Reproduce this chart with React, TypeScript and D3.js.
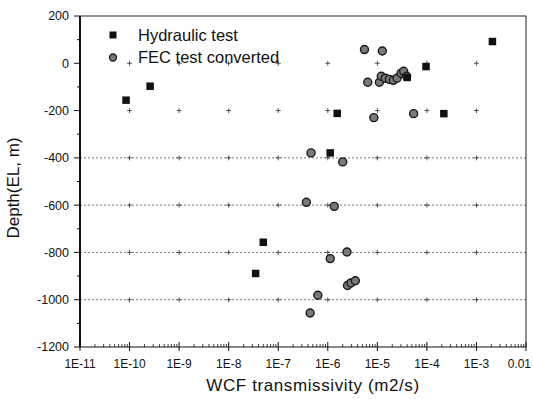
import React from "react";
import * as d3 from "d3";

const hydraulicT = [8.5e-11, 2.6e-10, 1.12e-6, 1.55e-6, 4.0e-5, 9.6e-5, 2.2e-4, 2.1e-3, 5.0e-8, 3.5e-8];
const hydraulicDepth = [-156, -97, -379, -212, -60, -14, -213, 92, -757, -889];

const fecT = [5.5e-6, 1.26e-5, 6.4e-6, 1.1e-5, 1.2e-5, 1.45e-5, 1.75e-5, 2.1e-5, 2.5e-5, 3.0e-5, 3.4e-5, 3.9e-5, 8.5e-6, 5.4e-5, 4.6e-7, 2.0e-6, 3.7e-7, 1.35e-6, 2.44e-6, 1.12e-6, 2.5e-6, 2.94e-6, 3.6e-6, 6.3e-7, 4.4e-7];
const fecDepth = [58, 52, -80, -80, -55, -63, -68, -72, -63, -42, -34, -55, -230, -213, -379, -417, -588, -605, -798, -826, -940, -929, -920, -981, -1056];

const xTickValues = [1e-11, 1e-10, 1e-9, 1e-8, 1e-7, 1e-6, 1e-5, 1e-4, 1e-3, 1e-2];
const xTickLabels = ["1E-11", "1E-10", "1E-9", "1E-8", "1E-7", "1E-6", "1E-5", "1E-4", "1E-3", "0.01"];
const yTickValues = [200, 0, -200, -400, -600, -800, -1000, -1200];
const gridDepths = [-400, -600, -800, -1000];
const crossDepths = [0, -200, -400, -600, -800, -1000];

const legendLabels = ["Hydraulic test", "FEC test converted"];

const W = 533, H = 399;
const L = 80, R = 526, T = 16, B = 347;

export default function App() {
  const x = d3.scaleLog().domain([1e-11, 1e-2]).range([L, R]);
  const y = d3.scaleLinear().domain([-1200, 200]).range([B, T]);
  const font = "'Liberation Sans', Arial, sans-serif";

  const minorX: number[] = [];
  for (let e = -11; e < -2; e++) {
    for (let k = 2; k <= 9; k++) minorX.push(k * Math.pow(10, e));
  }
  const minorY = d3.range(-1100, 200, 200);
  const crossX = xTickValues.slice(1, -1);
  const last = xTickValues.length - 1;

  return (
    <svg width={W} height={H} style={{ position: "absolute", left: 0, top: 0, background: "#fff" }} fontFamily={font}>
      <rect x={0} y={0} width={W} height={H} fill="#fff" />
      {gridDepths.map((d) => (
        <line key={"g" + d} x1={L} x2={R} y1={y(d)} y2={y(d)} stroke="#555" strokeWidth={0.8} strokeDasharray="2,2" />
      ))}
      {crossDepths.map((d) =>
        crossX.map((v) => (
          <g key={"c" + d + "_" + v} stroke="#333" strokeWidth={0.8}>
            <line x1={x(v) - 2.5} x2={x(v) + 2.5} y1={y(d)} y2={y(d)} />
            <line x1={x(v)} x2={x(v)} y1={y(d) - 2.5} y2={y(d) + 2.5} />
          </g>
        ))
      )}
      <line x1={L} x2={R} y1={T} y2={T} stroke="#222" strokeWidth={1} />
      <line x1={R} x2={R} y1={T} y2={B} stroke="#222" strokeWidth={1} />
      <line x1={L} x2={R} y1={B} y2={B} stroke="#111" strokeWidth={1.2} />
      <line x1={L} x2={L} y1={T} y2={B} stroke="#111" strokeWidth={2} />
      {yTickValues.map((d) => (
        <g key={"y" + d}>
          <line x1={L - 6} x2={L} y1={y(d)} y2={y(d)} stroke="#111" strokeWidth={1} />
          <text x={L - 11} y={y(d)} dy="0.35em" textAnchor="end" fontSize={12.5} fill="#111">{d}</text>
        </g>
      ))}
      {minorY.map((d) => (
        <line key={"ym" + d} x1={L - 3} x2={L} y1={y(d)} y2={y(d)} stroke="#111" strokeWidth={1} />
      ))}
      {xTickValues.map((v, i) => (
        <g key={"x" + i}>
          <line x1={x(v)} x2={x(v)} y1={B - 5} y2={B + 4} stroke="#111" strokeWidth={1} />
          <text x={i === last ? 531 : x(v)} y={B + 21} textAnchor={i === last ? "end" : "middle"} fontSize={12} fill="#111">{xTickLabels[i]}</text>
        </g>
      ))}
      {minorX.map((v, i) => (
        <line key={"xm" + i} x1={x(v)} x2={x(v)} y1={B - 3} y2={B} stroke="#111" strokeWidth={0.8} />
      ))}
      <text x={313} y={391} textAnchor="middle" fontSize={17} letterSpacing={0.6} fill="#111">WCF transmissivity (m2/s)</text>
      <text transform={`translate(19,${188}) rotate(-90)`} textAnchor="middle" fontSize={17} fill="#111">Depth(EL, m)</text>
      {fecT.map((v, i) => (
        <circle key={"f" + i} cx={x(v)} cy={y(fecDepth[i])} r={4} fill="#7a7a7a" stroke="#1a1a1a" strokeWidth={1.4} />
      ))}
      {hydraulicT.map((v, i) => (
        <rect key={"h" + i} x={x(v) - 3.75} y={y(hydraulicDepth[i]) - 3.75} width={7.5} height={7.5} fill="#111" />
      ))}
      <rect x={113 - 3.5} y={35 - 3.5} width={7} height={7} fill="#111" />
      <text x={138} y={35} dy="0.35em" fontSize={16.5} fill="#111">{legendLabels[0]}</text>
      <circle cx={113} cy={57.5} r={3.5} fill="#7a7a7a" stroke="#1a1a1a" strokeWidth={1.3} />
      <text x={138} y={57.5} dy="0.35em" fontSize={16.5} fill="#111">{legendLabels[1]}</text>
    </svg>
  );
}
